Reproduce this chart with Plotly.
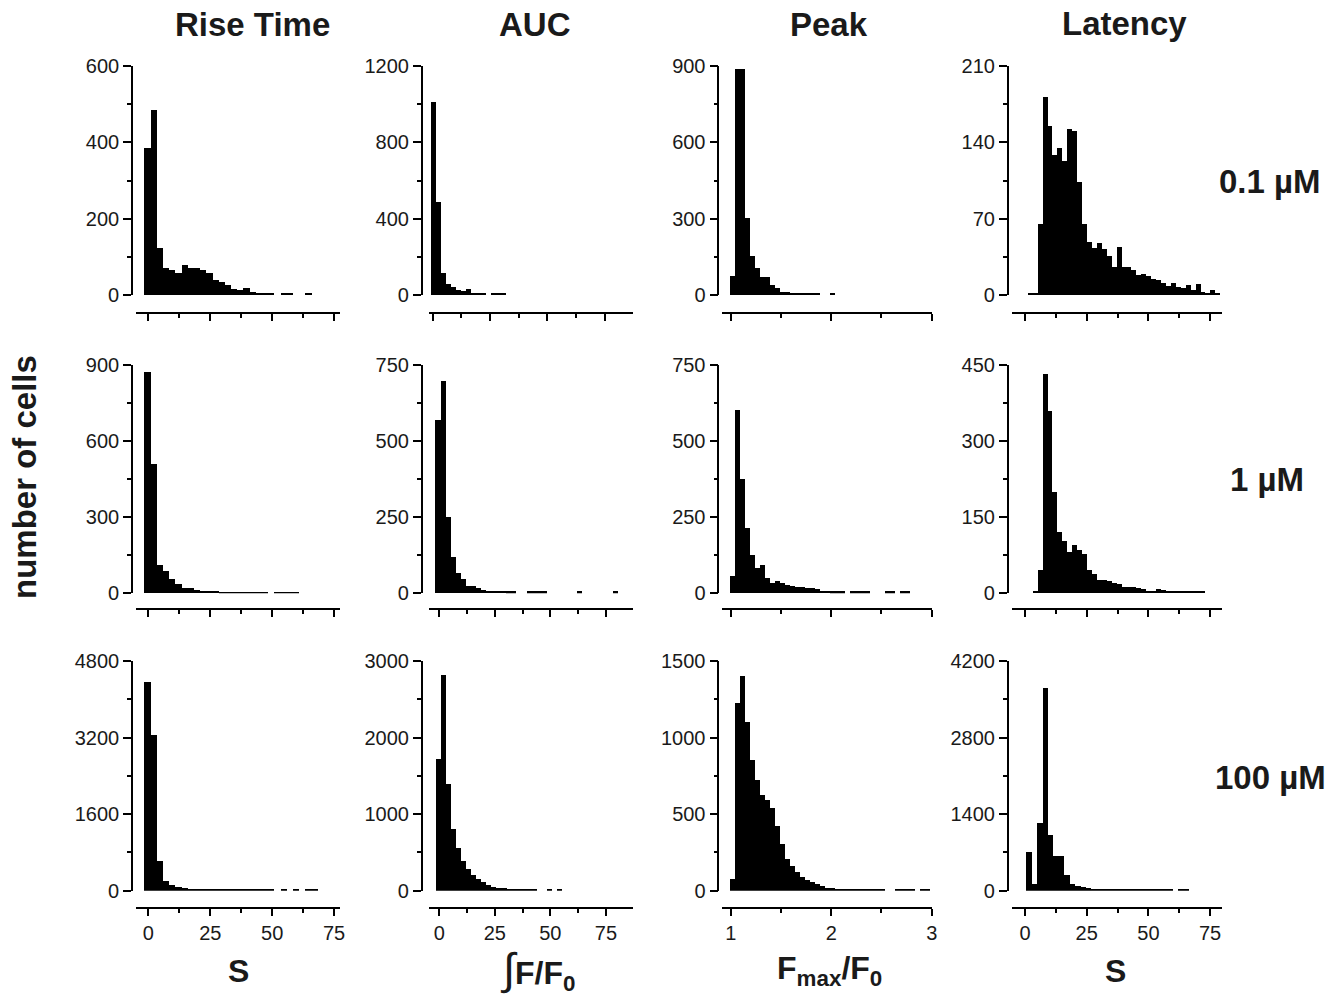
import plotly.graph_objects as go

W, H = 1339, 996

# ---------------- data ----------------
col_titles = ["Rise Time", "AUC", "Peak", "Latency"]
row_labels = ["0.1 µM", "1 µM", "100 µM"]
x_titles = ["S",
            "<span style='font-size:44px;font-weight:normal'>∫</span>F/F<sub>0</sub>",
            "F<sub>max</sub>/F<sub>0</sub>",
            "S"]
y_title = "number of cells"

y_max = [[600, 1200, 900, 210],
         [900, 750, 750, 450],
         [4800, 3000, 1500, 4200]]

# bins: (left edge of first bin, bin width)
rise_01_bins = (-1.6, 2.5)
rise_01 = [384, 486, 123, 72, 65, 58, 78, 72, 72, 65, 58, 39, 33, 26, 16, 13, 18, 8, 6, 5, 5,
           0, 5, 5, 0, 0, 5]
rise_1_bins = (-1.6, 2.5)
rise_1 = [871, 510, 112, 88, 55, 35, 22, 22, 14, 11, 10, 8, 7, 5, 5, 5, 5, 5, 5, 5, 0,
          7, 7, 7, 7]
rise_100_bins = (-1.6, 2.5)
rise_100 = [4363, 3253, 617, 201, 118, 69, 49, 42, 30, 30, 28, 25, 22, 22, 20, 20, 18, 18, 18,
            40, 40, 0, 40, 0, 40, 0, 40, 40]

auc_01_bins = (-0.35, 2.17)
auc_01 = [1009, 487, 117, 57, 43, 26, 20, 30, 12, 8, 8, 0, 10, 10, 10]
auc_1_bins = (-1.6, 2.28)
auc_1 = [569, 697, 252, 118, 68, 46, 25, 23, 16, 11, 9, 9, 8, 7, 6, 6, 0, 0, 6, 6, 6, 6,
         0, 0, 0, 0, 0, 0, 6, 0, 0, 0, 0, 0, 0, 6]
auc_100_bins = (-1.5, 2.28)
auc_100 = [1721, 2813, 1396, 810, 563, 386, 277, 204, 147, 108, 74, 52, 39, 30, 26, 22, 20, 18,
           16, 16, 0, 0, 26, 0, 26]

peak_01_bins = (0.985, 0.05)
peak_01 = [76, 890, 890, 303, 153, 107, 69, 69, 39, 26, 13, 10, 9, 8, 8, 8, 8, 8, 0, 0, 8]
peak_1_bins = (0.985, 0.05)
peak_1 = [58, 602, 374, 216, 126, 82, 93, 49, 35, 40, 33, 27, 24, 22, 21, 19, 16, 15, 9, 7,
          6, 6, 6, 0, 6, 6, 6, 6, 0, 0, 0, 6, 6, 0, 6, 6]
peak_100_bins = (0.985, 0.05)
peak_100 = [74, 1225, 1403, 1103, 856, 726, 626, 590, 542, 423, 308, 210, 163, 119, 91, 69, 54,
            41, 28, 20, 15, 13, 13, 13, 13, 13, 13, 13, 13, 13, 13, 0, 0, 13, 13, 13, 13, 0,
            13, 13]

lat_01_bins = (1.0, 2.0)
lat_01 = [2, 2, 65, 182, 155, 128, 135, 123, 152, 150, 104, 65, 49, 43, 48, 42, 36, 26, 44, 26,
          26, 23, 18, 19, 17, 15, 14, 11, 8, 11, 7, 6, 9, 5, 10, 3, 2, 5, 2]
lat_1_bins = (1.0, 2.0)
lat_1 = [0, 4, 46, 432, 359, 200, 120, 104, 82, 95, 85, 77, 46, 39, 26, 26, 25, 20, 18, 13, 12,
         12, 10, 8, 5, 4, 8, 7, 5, 5, 5, 5, 4, 4, 4, 4]
lat_100_bins = (0.4, 2.2)
lat_100 = [710, 115, 1244, 3714, 1013, 637, 637, 285, 115, 91, 67, 49, 40, 36, 30, 28, 28, 28,
           24, 24, 24, 24, 24, 20, 20, 20, 20, 0, 20, 20]

panels = [
    [(rise_01_bins, rise_01), (auc_01_bins, auc_01), (peak_01_bins, peak_01), (lat_01_bins, lat_01)],
    [(rise_1_bins, rise_1), (auc_1_bins, auc_1), (peak_1_bins, peak_1), (lat_1_bins, lat_1)],
    [(rise_100_bins, rise_100), (auc_100_bins, auc_100), (peak_100_bins, peak_100), (lat_100_bins, lat_100)],
]

# ---------------- layout geometry (pixels) ----------------
col_yaxis_px = [132, 421.7, 718.3, 1007.7]
col_xline_px = [(136, 340), (429.3, 633), (721.7, 931.7), (1011.7, 1221.7)]
col_xrange = [[-5, 77.4], [-4.5, 87.2], [0.91, 3.0], [-5.4, 79.7]]
row1_auc_xrange = [-1.4, 87.3]
col_dtick = [25, 25, 1, 25]
col_minor = [12.5, 12.5, 0.5, 12.5]
col_tick0 = [0, 0, 1, 0]
row_top_px = [66, 365, 661]
row_zero_px = [295, 593.3, 890.7]
row_xline_px = [313.3, 609.3, 908.3]

FONT = "Liberation Sans, Arial, sans-serif"
tickfont = dict(family=FONT, size=20, color="#1a1a1a")

fig = go.Figure()
layout = dict(
    template="none",
    width=W, height=H, autosize=False,
    margin=dict(l=0, r=0, t=0, b=0, pad=0),
    paper_bgcolor="white", plot_bgcolor="white",
    showlegend=False, bargap=0,
)

for r in range(3):
    for c in range(4):
        n = r * 4 + c + 1
        (start, width), counts = panels[r][c]
        xs = [start + width * (i + 0.5) for i in range(len(counts))]
        fig.add_trace(go.Bar(
            x=xs, y=counts, width=width,
            marker=dict(color="black", line=dict(width=0)),
            xaxis=f"x{n}", yaxis=f"y{n}", hoverinfo="x+y",
        ))
        xl, xr = col_xline_px[c]
        xrange = row1_auc_xrange if (r == 0 and c == 1) else col_xrange[c]
        layout[f"xaxis{n}"] = dict(
            domain=[xl / W, xr / W], anchor="free", position=1 - row_xline_px[r] / H,
            range=xrange, showline=True, linecolor="black", linewidth=1.6,
            ticks="outside", ticklen=7, tickwidth=1.6, tickcolor="black",
            tick0=col_tick0[c], dtick=col_dtick[c], automargin=False,
            minor=dict(dtick=col_minor[c], tick0=col_tick0[c], ticks="outside",
                       ticklen=4, tickwidth=1.6, tickcolor="black"),
            showticklabels=(r == 2), tickfont=tickfont,
            showgrid=False, zeroline=False, fixedrange=True,
        )
        ym = y_max[r][c]
        layout[f"yaxis{n}"] = dict(
            domain=[1 - row_zero_px[r] / H, 1 - row_top_px[r] / H],
            anchor="free", position=col_yaxis_px[c] / W, automargin=False,
            range=[0, ym], showline=True, linecolor="black", linewidth=1.6,
            ticks="outside", ticklen=8, tickwidth=1.6, tickcolor="black",
            tick0=0, dtick=ym / 3,
            minor=dict(dtick=ym / 6, tick0=0, ticks="outside",
                       ticklen=4, tickwidth=1.6, tickcolor="black"),
            tickfont=tickfont, showgrid=False, zeroline=False, fixedrange=True,
        )

annotations = []
title_pos = [(252, 25), (535, 25), (829, 25), (1124, 24)]
for t, (x, y) in zip(col_titles, title_pos):
    annotations.append(dict(text=f"<b>{t}</b>", x=x / W, y=1 - y / H, xref="paper", yref="paper",
                            showarrow=False, xanchor="center", yanchor="middle",
                            font=dict(family=FONT, size=33, color="#1a1a1a")))
row_pos = [(1270, 181), (1267, 479), (1270, 777)]
for t, (x, y) in zip(row_labels, row_pos):
    annotations.append(dict(text=f"<b>{t}</b>", x=x / W, y=1 - y / H, xref="paper", yref="paper",
                            showarrow=False, xanchor="center", yanchor="middle",
                            font=dict(family=FONT, size=33, color="#1a1a1a")))
xt_pos = [(238, 971), (538, 970), (829, 970), (1115, 971)]
for t, (x, y) in zip(x_titles, xt_pos):
    annotations.append(dict(text=f"<b>{t}</b>", x=x / W, y=1 - y / H, xref="paper", yref="paper",
                            showarrow=False, xanchor="center", yanchor="middle",
                            font=dict(family=FONT, size=32, color="#1a1a1a")))
annotations.append(dict(text=f"<b>{y_title}</b>", x=25 / W, y=1 - 477 / H, xref="paper", yref="paper",
                        showarrow=False, xanchor="center", yanchor="middle", textangle=-90,
                        font=dict(family=FONT, size=33, color="#1a1a1a")))
layout["annotations"] = annotations

fig.update_layout(**layout)
fig.write_html("out.html",
               config={"displayModeBar": False},
               post_script="document.body.style.margin='0';document.body.style.overflow='hidden';")
